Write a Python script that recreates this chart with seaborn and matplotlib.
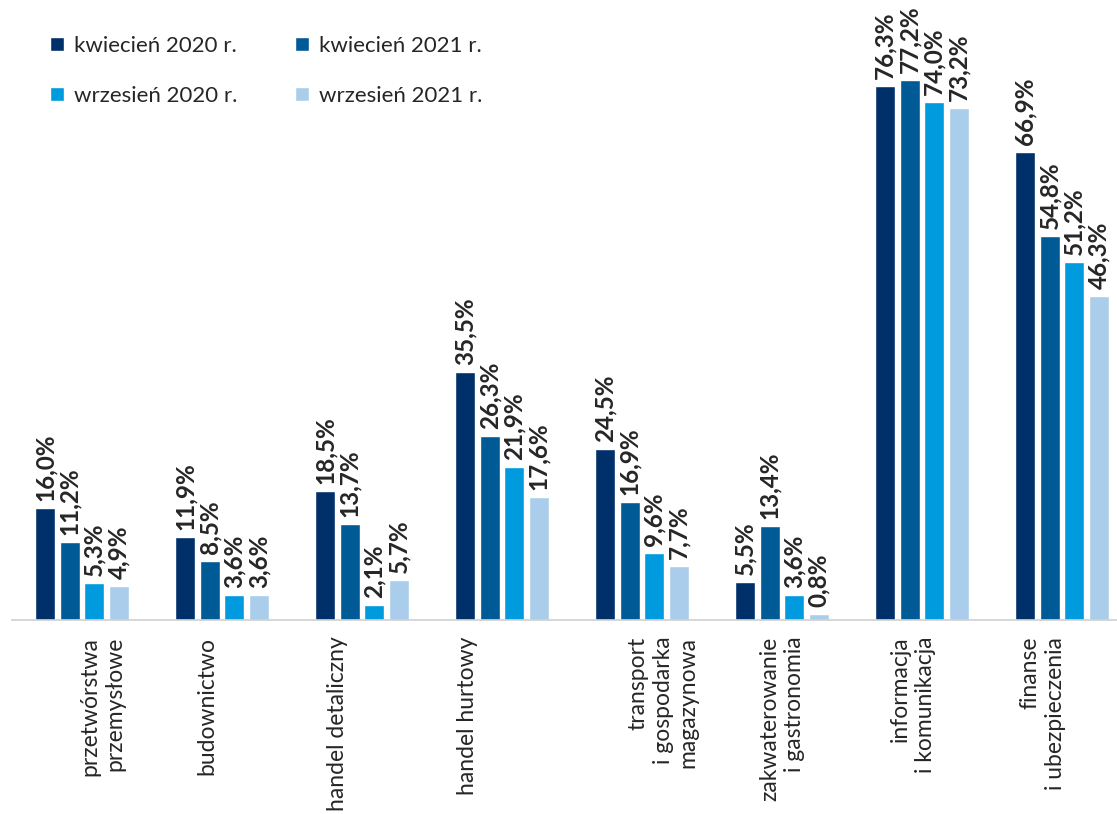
import matplotlib
matplotlib.use("Agg")
import matplotlib.pyplot as plt
import matplotlib.transforms as mtransforms
import seaborn as sns
import pandas as pd

categories = [
    "przetwórstwa\nprzemysłowe",
    "budownictwo",
    "handel detaliczny",
    "handel hurtowy",
    "transport\ni gospodarka\nmagazynowa",
    "zakwaterowanie\ni gastronomia",
    "informacja\ni komunikacja",
    "finanse\ni ubezpieczenia",
]
series = ["kwiecień 2020 r.", "kwiecień 2021 r.", "wrzesień 2020 r.", "wrzesień 2021 r."]
kw2020 = [16.0, 11.9, 18.5, 35.5, 24.5, 5.5, 76.3, 66.9]
kw2021 = [11.2, 8.5, 13.7, 26.3, 16.9, 13.4, 77.2, 54.8]
wrz2020 = [5.3, 3.6, 2.1, 21.9, 9.6, 3.6, 74.0, 51.2]
wrz2021 = [4.9, 3.6, 5.7, 17.6, 7.7, 0.8, 73.2, 46.3]
colors = ["#00306A", "#005A96", "#009ADE", "#ABCDEC"]

values = [kw2020, kw2021, wrz2020, wrz2021]
rows = []
for s, vals in zip(series, values):
    for c, v in zip(categories, vals):
        rows.append({"kategoria": c, "seria": s, "wartosc": v})
df = pd.DataFrame(rows)

sns.set_theme(style="white")
plt.rcParams["font.family"] = ["Lato", "DejaVu Sans"]

fig = plt.figure(figsize=(11.17, 8.14), dpi=100)
ax = fig.add_axes([12 / 1117, 1 - 620 / 814, 1120 / 1117, 620 / 814])

sns.barplot(
    data=df, x="kategoria", y="wartosc", hue="seria",
    order=categories, hue_order=series, palette=colors,
    width=0.7, gap=0.18, saturation=1, errorbar=None, ax=ax,
)

for cont, vals in zip(ax.containers, values):
    labels = [f"{v:.1f}".replace(".", ",") + "%" for v in vals]
    ax.bar_label(cont, labels=labels, rotation=90, padding=5,
                 fontsize=17.5, fontweight="bold", color="#262626")

ax.set_ylim(0, 620 / 7.0)
ax.set_xlim(-0.5, len(categories) - 0.5)
ax.set_xlabel("")
ax.set_ylabel("")
ax.set_yticks([])
for side in ["left", "right", "top"]:
    ax.spines[side].set_visible(False)
ax.spines["bottom"].set_color("#D0D0D0")
ax.spines["bottom"].set_linewidth(1.2)
ax.tick_params(axis="x", length=0, pad=12)
ax.set_xticks(range(len(categories)))
ticklabels = ax.set_xticklabels(categories, rotation=90, fontsize=16.5,
                                color="#262626", ha="center", va="top",
                                multialignment="right", linespacing=1.25)

# horizontal nudges (in pixels) for the category captions
label_shift_px = [20, -15, -24, -34, 21, 0, -9, -19]
for lbl, dx in zip(ticklabels, label_shift_px):
    shift = mtransforms.ScaledTranslation(dx / 100, 0, fig.dpi_scale_trans)
    lbl.set_transform(lbl.get_transform() + shift)

# legend filled row by row: April entries on top, September entries below
handles, _ = ax.get_legend_handles_labels()
order = [0, 2, 1, 3]
ax.legend([handles[i] for i in order], [series[i] for i in order],
          ncol=2, loc="upper left",
          bbox_to_anchor=(30 / 1117, 1 - 16 / 814), bbox_transform=fig.transFigure,
          frameon=False, fontsize=16, handlelength=0.62, handleheight=0.62,
          handletextpad=0.45, columnspacing=2.6, labelspacing=1.35,
          labelcolor="#262626")

fig.savefig("out.png", dpi=100)
